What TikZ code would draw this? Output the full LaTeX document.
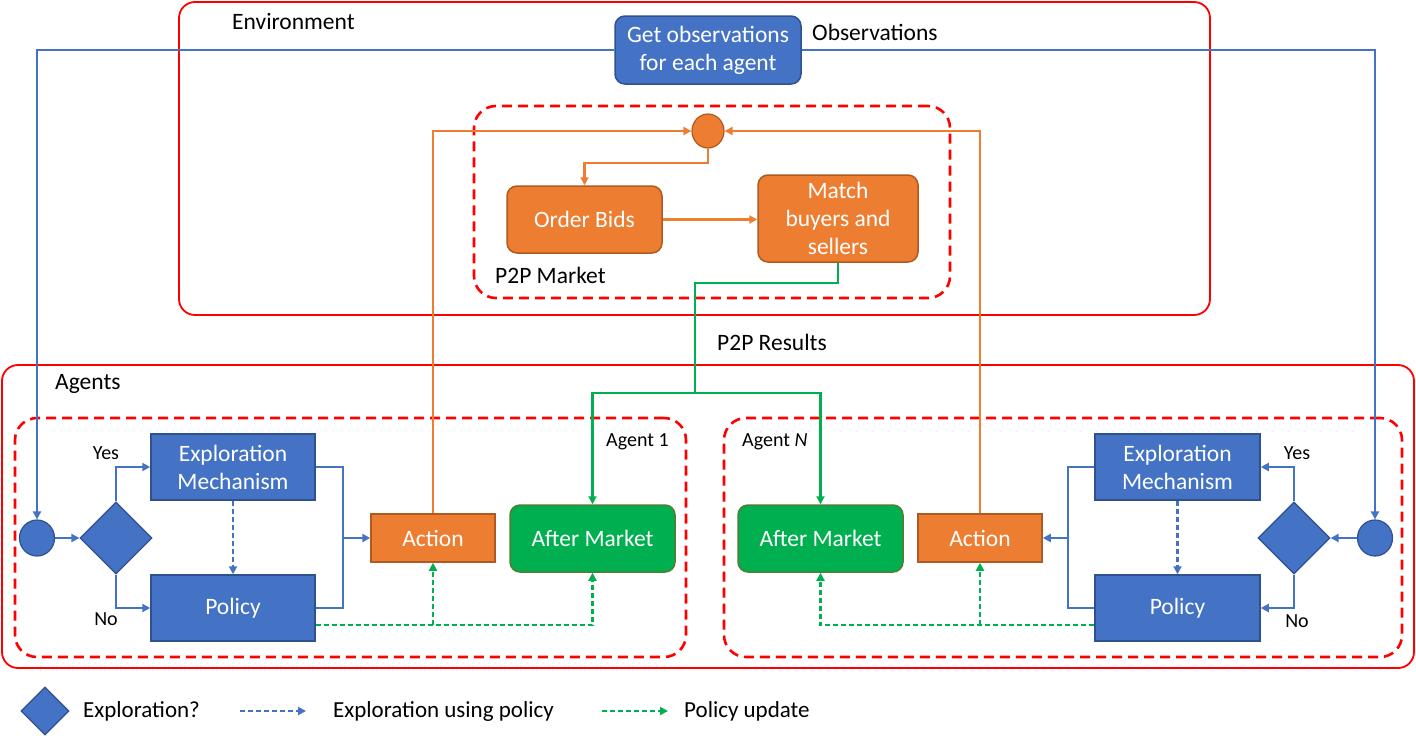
\documentclass[tikz,border=0pt]{standalone}
\usepackage{fontspec}
\setmainfont{Carlito}
\usetikzlibrary{shapes.geometric,arrows.meta}
\definecolor{mblue}{HTML}{4472C4}
\definecolor{mbluedk}{HTML}{2F528F}
\definecolor{morange}{HTML}{ED7D31}
\definecolor{morangedk}{HTML}{AE5A21}
\definecolor{mgreen}{HTML}{00B050}
\definecolor{mgreendk}{HTML}{507E32}
\definecolor{mred}{HTML}{FF0000}
\tikzset{
  tip/.style={-{Triangle[length=8pt,width=8pt]}},
  bigtxt/.style={font=\fontsize{23.5}{28}\selectfont, align=center, text=white},
  lbl/.style={font=\fontsize{23.5}{28}\selectfont},
  smalllbl/.style={font=\fontsize{20}{24}\selectfont},
  legtxt/.style={font=\fontsize{23}{28}\selectfont, anchor=west, inner sep=0pt},
  envbox/.style={draw=mred, line width=1.8pt, rounded corners=16pt, inner sep=0pt},
  mktbox/.style={draw=mred, line width=2.6pt, dash pattern=on 10pt off 6pt, rounded corners=22pt, inner sep=0pt},
  bluebox/.style={draw=mbluedk, fill=mblue, line width=1.5pt, inner sep=0pt, bigtxt},
  orangebox/.style={draw=morangedk, fill=morange, line width=1.5pt, inner sep=0pt, bigtxt},
  greenbox/.style={draw=mgreendk, fill=mgreen, line width=1.5pt, inner sep=0pt, bigtxt, rounded corners=10pt},
  dia/.style={diamond, draw=mbluedk, fill=mblue, line width=1.2pt, inner sep=0pt},
  circ/.style={ellipse, draw=mbluedk, fill=mblue, line width=1.2pt, inner sep=0pt},
  bline/.style={draw=mblue, line width=2.2pt},
  oline/.style={draw=morange, line width=2.2pt},
  gline/.style={draw=mgreen, line width=2.2pt},
  bdash/.style={draw=mblue, line width=2.2pt, dash pattern=on 5pt off 3pt},
  gdash/.style={draw=mgreen, line width=2.2pt, dash pattern=on 5pt off 3pt},
}
\begin{document}
\begin{tikzpicture}[x=1pt,y=-1pt]
\useasboundingbox[fill=white] (0,0) rectangle (1416,737);

% containers
\node[envbox, minimum width=1031pt, minimum height=313pt] (env) at (694.5,158.5) {};
\node[envbox, minimum width=1412pt, minimum height=303pt] (agents) at (708,516.5) {};
\node[mktbox, minimum width=476pt, minimum height=192pt] (mkt) at (712,202) {};
\node[mktbox, minimum width=671pt, minimum height=239pt] (ag1) at (350.5,537.5) {};
\node[mktbox, minimum width=678pt, minimum height=239pt] (agN) at (1063,537.5) {};

% labels
\node[lbl, anchor=west, inner sep=0pt] (envl) at (232,21) {Environment};
\node[lbl, anchor=west, inner sep=0pt] (obsl) at (812,32) {Observations};
\node[lbl, anchor=west, inner sep=0pt] (mktl) at (495,275) {P2P Market};
\node[lbl, anchor=west, inner sep=0pt] (resl) at (717,342) {P2P Results};
\node[lbl, anchor=west, inner sep=0pt] (agl) at (55,384) {Agents};
\node[smalllbl, anchor=west, inner sep=0pt] (a1l) at (606,442) {Agent 1};
\node[smalllbl, anchor=west, inner sep=0pt] (aNl) at (742,442) {Agent \textit{N}};

% environment nodes
\node[bluebox, rounded corners=10pt, minimum width=186pt, minimum height=68pt] (obs) at (708,50) {Get observations\\for each agent};
\node[ellipse, draw=morangedk, fill=morange, line width=1.2pt, inner sep=0pt, minimum width=32pt, minimum height=34pt] (oc) at (708,131) {};
\node[orangebox, rounded corners=10pt, minimum width=155pt, minimum height=67pt] (bids) at (584.5,219.5) {Order Bids};
\node[orangebox, rounded corners=10pt, minimum width=160pt, minimum height=87pt] (match) at (838,218.5) {Match\\buyers and\\sellers};

% agent 1
\node[circ, minimum width=35pt, minimum height=36pt] (c1) at (37,538) {};
\node[dia, minimum width=72pt, minimum height=72pt] (d1) at (116,538) {};
\node[bluebox, minimum width=164pt, minimum height=66pt] (exp1) at (233,467) {Exploration\\Mechanism};
\node[bluebox, minimum width=164pt, minimum height=66pt] (pol1) at (233,608) {Policy};
\node[orangebox, minimum width=124pt, minimum height=48pt] (act1) at (433,538) {Action};
\node[greenbox, minimum width=165pt, minimum height=67pt] (am1) at (592.5,538.5) {After Market};
\node[smalllbl, inner sep=0pt] (yes1) at (106,453) {Yes};
\node[smalllbl, inner sep=0pt] (no1) at (106,619) {No};

% agent N
\node[circ, minimum width=35pt, minimum height=36pt] (cN) at (1375,538) {};
\node[dia, minimum width=72pt, minimum height=72pt] (dN) at (1294,538) {};
\node[bluebox, minimum width=165pt, minimum height=66pt] (expN) at (1177.5,467) {Exploration\\Mechanism};
\node[bluebox, minimum width=165pt, minimum height=66pt] (polN) at (1177.5,608) {Policy};
\node[orangebox, minimum width=124pt, minimum height=48pt] (actN) at (980,538) {Action};
\node[greenbox, minimum width=165pt, minimum height=67pt] (amN) at (820.5,538.5) {After Market};
\node[smalllbl, inner sep=0pt] (yesN) at (1297,453) {Yes};
\node[smalllbl, inner sep=0pt] (noN) at (1297,621) {No};

% coordinates
\coordinate (gsplit) at (695,393);
\coordinate (j1) at (343,538);
\coordinate (jN) at (1068,538);
\coordinate (gd1) at (433,625);
\coordinate (gdN) at (980,625);

% observation lines
\draw[bline, tip] (obs.west) -| (c1.north);
\draw[bline, tip] (obs.east) -| (cN.north);

% market lines
\draw[oline, tip] (act1.north) |- (oc.west);
\draw[oline, tip] (actN.north) |- (oc.east);
\draw[oline, tip] (oc.south) -- ++(0,14) -| (bids.north);
\draw[oline, tip] (bids.east) -- (match.west |- bids.east);
\draw[gline] (match.south) -- ++(0,20) -| (gsplit);
\draw[gline, tip] (gsplit) -| (am1.north);
\draw[gline, tip] (gsplit) -| (amN.north);

% agent 1 lines
\draw[bline, tip] (c1.east) -- (d1.west);
\draw[bline, tip] (d1.north) |- (exp1.west);
\draw[bline, tip] (d1.south) |- (pol1.west);
\draw[bline] (exp1.east) -| (j1) |- (pol1.east);
\draw[bline, tip] (j1) -- (act1.west);
\draw[bdash, tip] (exp1.south) -- (pol1.north);
\draw[gdash, tip] (pol1.east |- gd1) -| (am1.south);
\draw[gdash, tip] (gd1) -- (act1.south);

% agent N lines
\draw[bline, tip] (cN.west) -- (dN.east);
\draw[bline, tip] (dN.north) |- (expN.east);
\draw[bline, tip] (dN.south) |- (polN.east);
\draw[bline] (expN.west) -| (jN) |- (polN.west);
\draw[bline, tip] (jN) -- (actN.east);
\draw[bdash, tip] (expN.south) -- (polN.north);
\draw[gdash, tip] (polN.west |- gdN) -| (amN.south);
\draw[gdash, tip] (gdN) -- (actN.south);

% legend
\node[dia, minimum width=48pt, minimum height=48pt] (ld) at (45,711) {};
\node[legtxt] (lt1) at (83,711) {Exploration?};
\coordinate (lb1) at (240,711);
\coordinate (lb2) at (306,711);
\draw[bdash, tip] (lb1) -- (lb2);
\node[legtxt] (lt2) at (333,711) {Exploration using policy};
\coordinate (lg1) at (602,711);
\coordinate (lg2) at (668,711);
\draw[gdash, tip] (lg1) -- (lg2);
\node[legtxt] (lt3) at (684,711) {Policy update};
\end{tikzpicture}
\end{document}
